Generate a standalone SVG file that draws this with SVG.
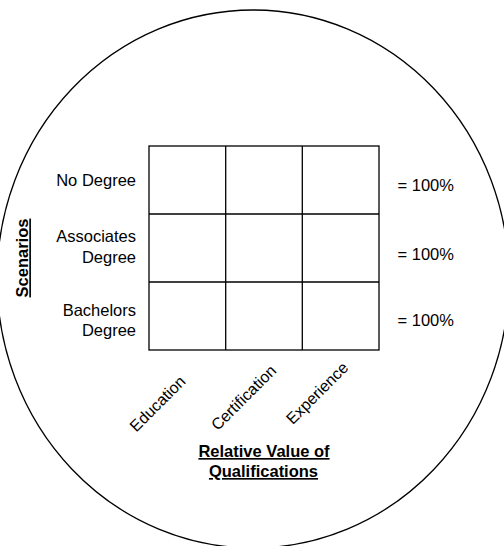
<svg xmlns="http://www.w3.org/2000/svg" width="504" height="546" viewBox="0 0 504 546">
<style>
.ln{fill:none;stroke:#000;stroke-width:1.3}
.t{font-family:"Liberation Sans",Arial,sans-serif;font-size:16.5px;fill:#000}
.r{font-family:"Liberation Sans",Arial,sans-serif;font-size:16px;fill:#000;text-anchor:middle}
.b{font-family:"Liberation Sans",Arial,sans-serif;font-size:16.5px;font-weight:bold;fill:#000;text-decoration:underline;text-anchor:middle}
</style>
<rect width="504" height="546" fill="#fff"/>
<g id="boundary"><ellipse class="ln" cx="253" cy="279" rx="256" ry="269"/></g>
<g id="grid">
<rect class="ln" x="149" y="146" width="230" height="204"/>
<line class="ln" x1="225.7" y1="146" x2="225.7" y2="350"/>
<line class="ln" x1="302.3" y1="146" x2="302.3" y2="350"/>
<line class="ln" x1="149" y1="214" x2="379" y2="214"/>
<line class="ln" x1="149" y1="282" x2="379" y2="282"/>
</g>
<g id="rows" class="t" text-anchor="end">
<text x="136" y="186">No Degree</text>
<text x="136" y="242">Associates</text>
<text x="136" y="263">Degree</text>
<text x="136" y="316">Bachelors</text>
<text x="136" y="336">Degree</text>
</g>
<g id="totals" class="t">
<text x="397.5" y="191">= 100%</text>
<text x="397.5" y="259.5">= 100%</text>
<text x="397.5" y="326">= 100%</text>
</g>
<g id="columns">
<text class="r" transform="translate(161.5,407.5) rotate(-45)">Education</text>
<text class="r" transform="translate(247.5,401.5) rotate(-45)">Certification</text>
<text class="r" transform="translate(321,397) rotate(-45)">Experience</text>
</g>
<g id="scenarios-label"><text class="b" transform="translate(28.3,258) rotate(-90)">Scenarios</text></g>
<g id="qualifications-label">
<text class="b" x="264" y="457">Relative Value of</text>
<text class="b" x="263.5" y="477">Qualifications</text>
</g>
</svg>
